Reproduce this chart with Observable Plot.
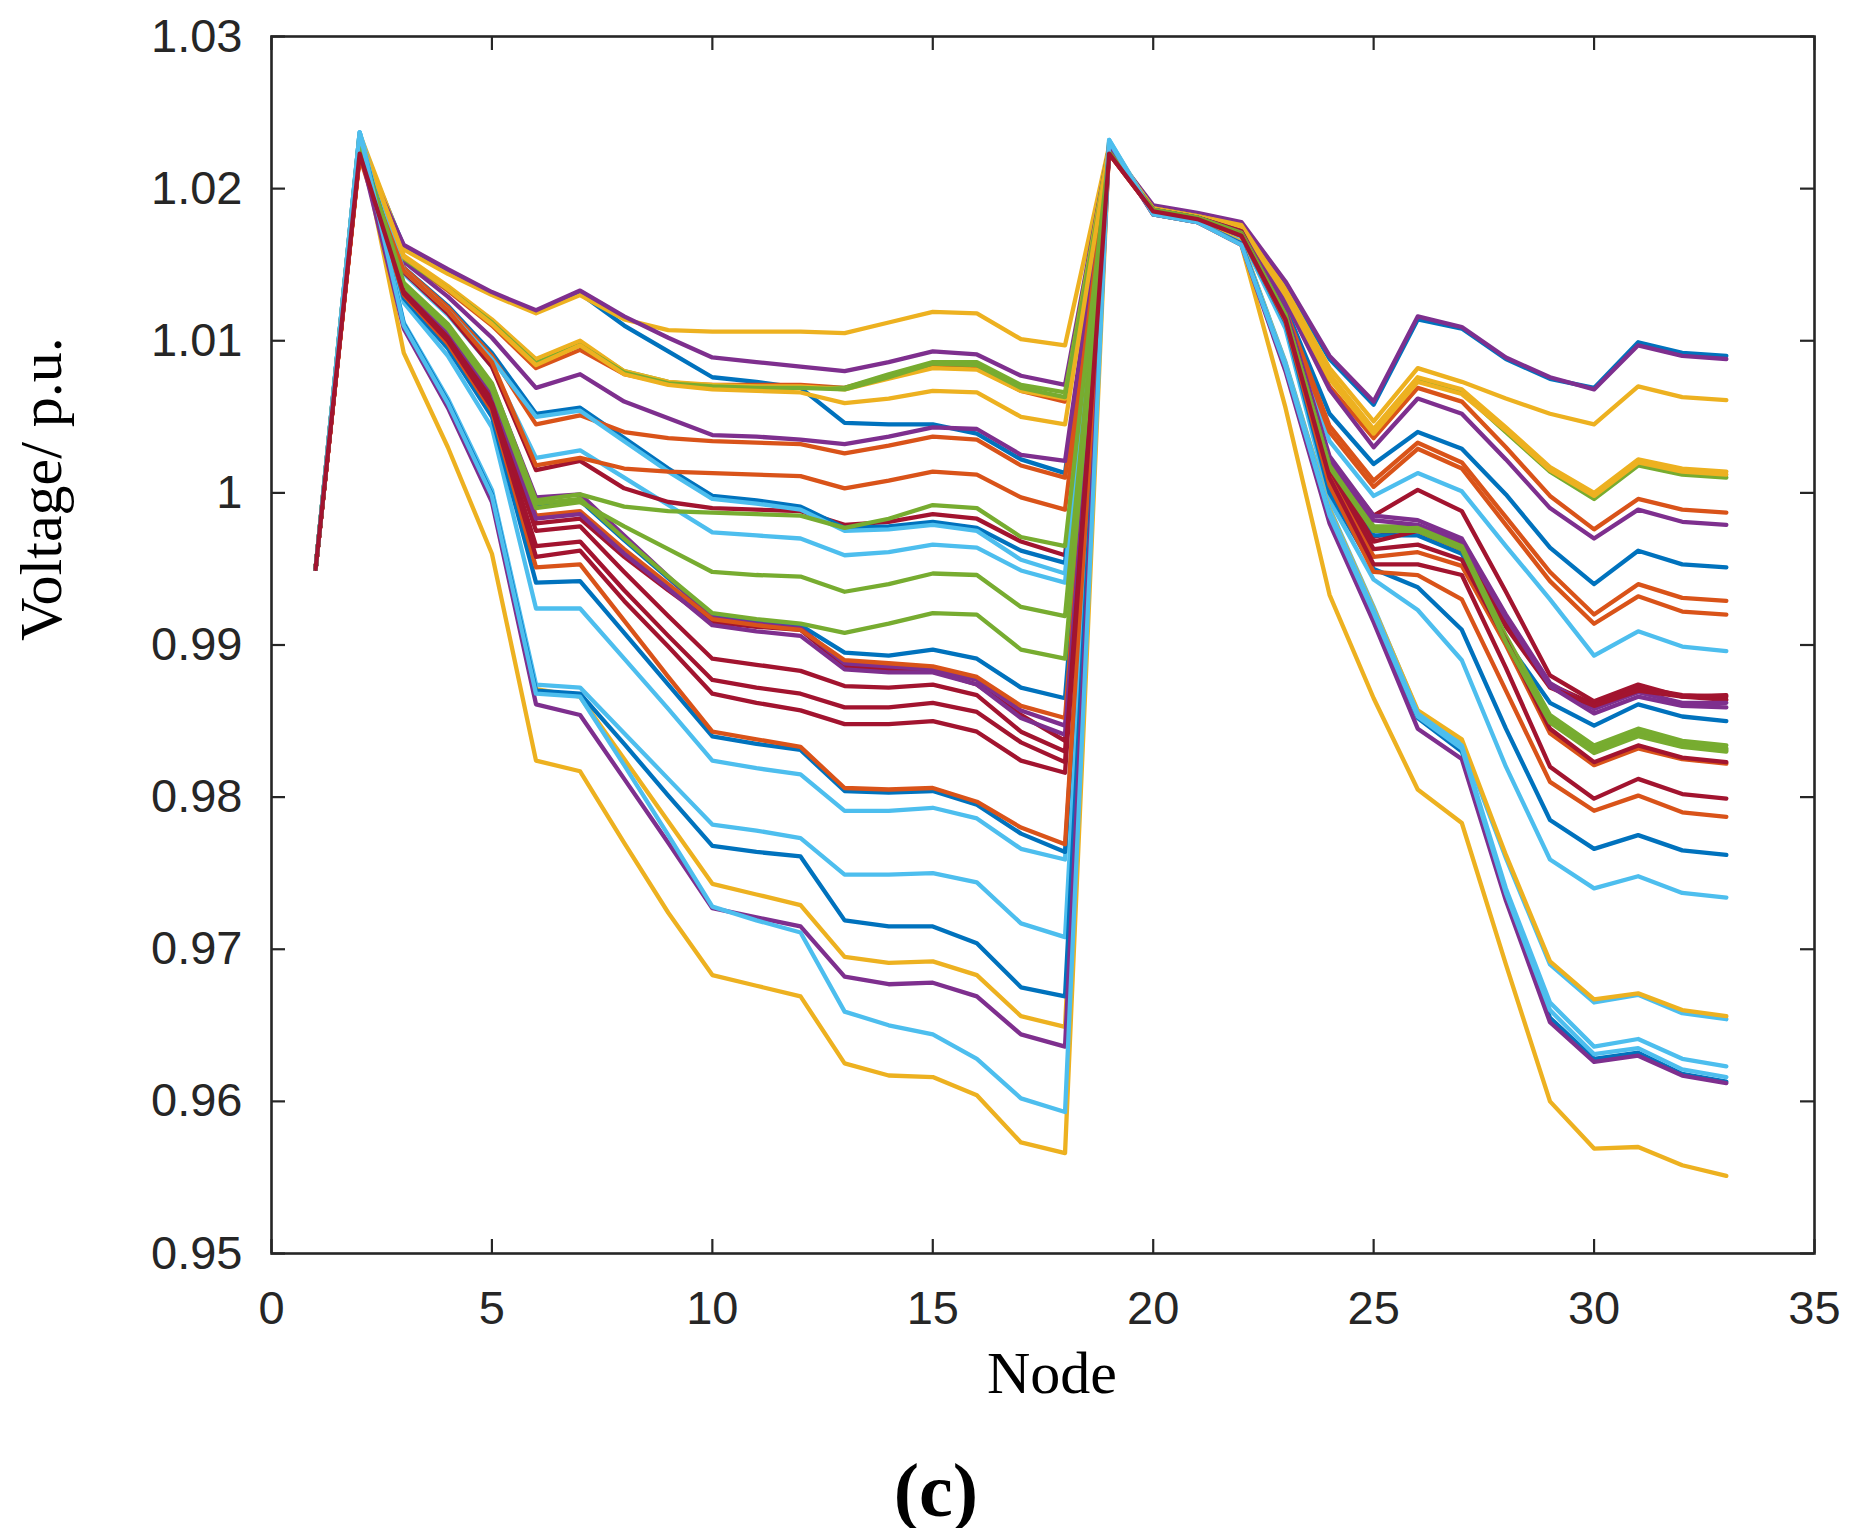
<!DOCTYPE html>
<html>
<head>
<meta charset="utf-8">
<script src="https://cdn.jsdelivr.net/npm/d3@7"></script>
<script src="https://cdn.jsdelivr.net/npm/@observablehq/plot@0.6"></script>
<style>
  html, body { margin: 0; padding: 0; background: #fff; }
  #cap { width: 1855px; box-sizing: border-box; padding-left: 17px; text-align: center;
         font-family: "Liberation Serif", "Times New Roman", serif; font-weight: bold;
         font-size: 76px; line-height: 76px; margin-top: 32px; color: #000; }
</style>
</head>
<body>
<div id="chart"></div>
<div id="cap">(c)</div>
<script>
// Node numbers (IEEE 33-bus feeder)
const nodes = [1,2,3,4,5,6,7,8,9,10,11,12,13,14,15,16,17,18,19,20,21,22,23,24,25,26,27,28,29,30,31,32,33];

// Voltage profiles (p.u.), one array per scenario
const blue1 = [0.995,1.0232,1.0162,1.0146,1.0131,1.0119,1.0131,1.0110,1.0093,1.0076,1.0073,1.0069,1.0046,1.0045,1.0045,1.0039,1.0022,1.0013,1.0226,1.0188,1.0183,1.0177,1.0137,1.0088,1.0058,1.0114,1.0108,1.0088,1.0075,1.0069,1.0099,1.0092,1.0090];
const orange1 = [0.995,1.0223,1.0154,1.0133,1.0110,1.0082,1.0094,1.0078,1.0072,1.0071,1.0071,1.0071,1.0069,1.0077,1.0083,1.0082,1.0067,1.0060,1.0225,1.0187,1.0182,1.0175,1.0128,1.0070,1.0036,1.0069,1.0060,1.0030,0.9998,0.9976,0.9996,0.9989,0.9987];
const yellow1 = [0.995,1.0236,1.0160,1.0144,1.0130,1.0118,1.0130,1.0114,1.0107,1.0106,1.0106,1.0106,1.0105,1.0112,1.0119,1.0118,1.0101,1.0097,1.0228,1.0188,1.0183,1.0176,1.0134,1.0082,1.0047,1.0082,1.0073,1.0062,1.0052,1.0045,1.0070,1.0063,1.0061];
const purple1 = [0.995,1.0226,1.0163,1.0147,1.0132,1.0120,1.0133,1.0116,1.0102,1.0089,1.0086,1.0083,1.0080,1.0086,1.0093,1.0091,1.0077,1.0071,1.0227,1.0189,1.0184,1.0178,1.0139,1.0090,1.0060,1.0116,1.0109,1.0089,1.0076,1.0068,1.0097,1.0090,1.0088];
const green1 = [0.995,1.0230,1.0155,1.0135,1.0113,1.0087,1.0099,1.0080,1.0073,1.0070,1.0070,1.0069,1.0069,1.0078,1.0086,1.0086,1.0071,1.0066,1.0227,1.0187,1.0182,1.0175,1.0131,1.0077,1.0040,1.0074,1.0066,1.0040,1.0014,0.9996,1.0018,1.0012,1.0010];
const lightblue1 = [0.995,1.0237,1.0144,1.0117,1.0083,1.0023,1.0028,1.0010,0.9992,0.9974,0.9972,0.9970,0.9959,0.9961,0.9966,0.9964,0.9949,0.9941,1.0229,1.0186,1.0181,1.0172,1.0117,1.0034,0.9998,1.0013,1.0001,0.9965,0.9930,0.9893,0.9909,0.9899,0.9896];
const darkred1 = [0.995,1.0224,1.0145,1.0118,1.0083,1.0015,1.0021,1.0003,0.9994,0.9990,0.9989,0.9988,0.9979,0.9981,0.9986,0.9983,0.9968,0.9959,1.0225,1.0187,1.0182,1.0173,1.0115,1.0022,0.9985,1.0002,0.9988,0.9935,0.9880,0.9863,0.9874,0.9866,0.9864];
const blue2 = [0.995,1.0233,1.0148,1.0123,1.0092,1.0052,1.0056,1.0036,1.0016,0.9998,0.9995,0.9991,0.9977,0.9978,0.9981,0.9977,0.9962,0.9954,1.0225,1.0187,1.0182,1.0174,1.0122,1.0052,1.0019,1.0040,1.0029,0.9999,0.9964,0.9940,0.9962,0.9953,0.9951];
const orange2 = [0.995,1.0222,1.0148,1.0122,1.0090,1.0045,1.0051,1.0040,1.0036,1.0034,1.0033,1.0032,1.0026,1.0031,1.0037,1.0035,1.0018,1.0010,1.0224,1.0186,1.0181,1.0173,1.0120,1.0044,1.0008,1.0033,1.0020,0.9984,0.9948,0.9920,0.9940,0.9931,0.9929];
const yellow2 = [0.995,1.0233,1.0156,1.0136,1.0114,1.0088,1.0100,1.0080,1.0073,1.0071,1.0070,1.0070,1.0068,1.0075,1.0082,1.0081,1.0067,1.0062,1.0227,1.0187,1.0182,1.0176,1.0132,1.0078,1.0042,1.0076,1.0068,1.0043,1.0017,1.0000,1.0022,1.0016,1.0014];
const purple2 = [0.995,1.0224,1.0152,1.0129,1.0102,1.0069,1.0078,1.0060,1.0049,1.0038,1.0037,1.0035,1.0032,1.0037,1.0043,1.0042,1.0025,1.0021,1.0225,1.0187,1.0182,1.0174,1.0126,1.0068,1.0030,1.0062,1.0052,1.0022,0.9990,0.9970,0.9989,0.9981,0.9979];
const green2 = [0.995,1.0231,1.0154,1.0134,1.0112,1.0085,1.0097,1.0079,1.0072,1.0070,1.0069,1.0069,1.0068,1.0076,1.0085,1.0084,1.0069,1.0063,1.0224,1.0186,1.0181,1.0171,1.0118,1.0020,0.9978,0.9978,0.9966,0.9905,0.9852,0.9832,0.9843,0.9835,0.9832];
const lightblue2 = [0.995,1.0236,1.0146,1.0120,1.0088,1.0050,1.0054,1.0034,1.0014,0.9996,0.9993,0.9989,0.9975,0.9976,0.9979,0.9975,0.9956,0.9947,1.0229,1.0185,1.0180,1.0168,1.0108,0.9995,0.9943,0.9923,0.9890,0.9820,0.9759,0.9740,0.9748,0.9737,0.9734];
const darkred2 = [0.995,1.0223,1.0134,1.0105,1.0064,0.9980,0.9983,0.9958,0.9936,0.9915,0.9912,0.9910,0.9886,0.9884,0.9883,0.9874,0.9854,0.9837,1.0224,1.0186,1.0181,1.0172,1.0116,1.0020,0.9971,0.9978,0.9966,0.9915,0.9874,0.9861,0.9872,0.9867,0.9866];
const blue3 = [0.995,1.0232,1.0136,1.0108,1.0069,0.9992,0.9995,0.9969,0.9944,0.9919,0.9916,0.9913,0.9895,0.9893,0.9897,0.9891,0.9872,0.9865,1.0224,1.0186,1.0181,1.0171,1.0117,1.0018,0.9972,0.9972,0.9960,0.9903,0.9862,0.9847,0.9861,0.9853,0.9850];
const orange3 = [0.995,1.0222,1.0146,1.0120,1.0086,1.0018,1.0023,1.0016,1.0014,1.0013,1.0012,1.0011,1.0003,1.0008,1.0014,1.0012,0.9997,0.9989,1.0224,1.0186,1.0181,1.0173,1.0118,1.0040,1.0004,1.0029,1.0016,0.9979,0.9942,0.9914,0.9932,0.9922,0.9920];
const yellow3 = [0.995,1.0234,1.0155,1.0134,1.0111,1.0084,1.0097,1.0078,1.0071,1.0068,1.0067,1.0066,1.0059,1.0062,1.0067,1.0066,1.0050,1.0045,1.0227,1.0187,1.0182,1.0175,1.0130,1.0075,1.0039,1.0073,1.0065,1.0041,1.0015,0.9998,1.0020,1.0014,1.0012];
const purple3 = [0.995,1.0225,1.0137,1.0110,1.0071,0.9997,0.9999,0.9972,0.9945,0.9918,0.9914,0.9911,0.9888,0.9886,0.9884,0.9877,0.9857,0.9847,1.0224,1.0186,1.0181,1.0172,1.0120,1.0024,0.9985,0.9982,0.9970,0.9920,0.9875,0.9858,0.9869,0.9862,0.9862];
const green3 = [0.995,1.0230,1.0138,1.0111,1.0072,0.9995,0.9999,0.9991,0.9988,0.9987,0.9986,0.9985,0.9977,0.9983,0.9992,0.9990,0.9971,0.9965,1.0224,1.0186,1.0181,1.0171,1.0118,1.0019,0.9977,0.9976,0.9964,0.9903,0.9850,0.9830,0.9841,0.9834,0.9831];
const lightblue3 = [0.995,1.0237,1.0125,1.0090,1.0043,0.9924,0.9924,0.9891,0.9858,0.9824,0.9819,0.9815,0.9791,0.9791,0.9793,0.9786,0.9766,0.9759,1.0232,1.0184,1.0179,1.0165,1.0086,0.9990,0.9925,0.9856,0.9836,0.9760,0.9690,0.9665,0.9670,0.9658,0.9654];
const darkred3 = [0.995,1.0223,1.0133,1.0104,1.0062,0.9975,0.9978,0.9948,0.9919,0.9891,0.9887,0.9883,0.9873,0.9872,0.9874,0.9867,0.9843,0.9830,1.0224,1.0186,1.0181,1.0172,1.0115,1.0019,0.9968,0.9975,0.9963,0.9912,0.9872,0.9860,0.9870,0.9866,0.9867];
const blue4 = [0.995,1.0234,1.0128,1.0095,1.0050,0.9941,0.9942,0.9908,0.9874,0.9840,0.9835,0.9831,0.9804,0.9803,0.9804,0.9795,0.9776,0.9764,1.0226,1.0185,1.0180,1.0169,1.0112,1.0000,0.9950,0.9938,0.9910,0.9845,0.9785,0.9766,0.9775,0.9765,0.9762];
const orange4 = [0.995,1.0222,1.0135,1.0107,1.0067,0.9985,0.9988,0.9963,0.9940,0.9917,0.9913,0.9910,0.9890,0.9888,0.9886,0.9879,0.9860,0.9852,1.0223,1.0185,1.0180,1.0170,1.0116,1.0014,0.9958,0.9961,0.9952,0.9900,0.9842,0.9821,0.9832,0.9825,0.9822];
const yellow4 = [0.995,1.0236,1.0109,1.0058,0.9997,0.9871,0.9866,0.9825,0.9784,0.9743,0.9736,0.9729,0.9695,0.9691,0.9692,0.9683,0.9656,0.9649,1.0231,1.0184,1.0179,1.0165,1.0085,0.9989,0.9924,0.9857,0.9838,0.9762,0.9692,0.9667,0.9671,0.9660,0.9656];
const purple4 = [0.995,1.0225,1.0135,1.0106,1.0066,0.9983,0.9986,0.9960,0.9937,0.9913,0.9909,0.9906,0.9884,0.9882,0.9882,0.9874,0.9852,0.9841,1.0224,1.0186,1.0181,1.0171,1.0119,1.0022,0.9982,0.9979,0.9968,0.9918,0.9873,0.9855,0.9866,0.9860,0.9859];
const green4 = [0.995,1.0229,1.0136,1.0108,1.0068,0.9990,0.9994,0.9978,0.9963,0.9948,0.9946,0.9945,0.9935,0.9940,0.9947,0.9946,0.9925,0.9919,1.0224,1.0186,1.0181,1.0171,1.0117,1.0018,0.9976,0.9977,0.9965,0.9906,0.9854,0.9834,0.9845,0.9837,0.9834];
const lightblue4 = [0.995,1.0237,1.0112,1.0062,1.0002,0.9874,0.9872,0.9842,0.9812,0.9782,0.9778,0.9773,0.9749,0.9749,0.9750,0.9744,0.9717,0.9708,1.0232,1.0183,1.0178,1.0164,1.0085,0.9988,0.9923,0.9855,0.9834,0.9740,0.9665,0.9636,0.9641,0.9628,0.9623];
const darkred4 = [0.995,1.0223,1.0132,1.0102,1.0059,0.9965,0.9968,0.9936,0.9906,0.9877,0.9872,0.9868,0.9859,0.9859,0.9862,0.9856,0.9836,0.9823,1.0223,1.0185,1.0180,1.0170,1.0116,1.0016,0.9963,0.9966,0.9956,0.9903,0.9845,0.9823,0.9834,0.9826,0.9823];
const blue5 = [0.995,1.0235,1.0111,1.0060,0.9999,0.9870,0.9868,0.9835,0.9801,0.9768,0.9764,0.9761,0.9719,0.9715,0.9715,0.9704,0.9675,0.9669,1.0230,1.0183,1.0178,1.0164,1.0082,0.9984,0.9920,0.9852,0.9830,0.9735,0.9655,0.9628,0.9632,0.9618,0.9613];
const orange5 = [0.995,1.0221,1.0130,1.0098,1.0054,0.9951,0.9953,0.9916,0.9879,0.9843,0.9838,0.9833,0.9806,0.9805,0.9806,0.9797,0.9780,0.9769,1.0223,1.0185,1.0180,1.0169,1.0113,1.0005,0.9948,0.9946,0.9930,0.9870,0.9810,0.9791,0.9801,0.9790,0.9787];
const yellow5 = [0.995,1.0235,1.0092,1.0030,0.9960,0.9824,0.9817,0.9770,0.9724,0.9683,0.9676,0.9669,0.9625,0.9617,0.9616,0.9604,0.9573,0.9566,1.0229,1.0183,1.0178,1.0163,1.0056,0.9933,0.9865,0.9805,0.9783,0.9690,0.9600,0.9569,0.9570,0.9558,0.9551];
const purple5 = [0.995,1.0226,1.0108,1.0056,0.9994,0.9861,0.9854,0.9812,0.9770,0.9727,0.9721,0.9715,0.9682,0.9677,0.9678,0.9669,0.9644,0.9636,1.0228,1.0183,1.0178,1.0163,1.0080,0.9980,0.9915,0.9845,0.9825,0.9732,0.9652,0.9626,0.9630,0.9617,0.9612];
const green5 = [0.995,1.0229,1.0137,1.0109,1.0070,0.9993,0.9996,0.9970,0.9945,0.9921,0.9917,0.9914,0.9908,0.9914,0.9921,0.9920,0.9897,0.9891,1.0224,1.0186,1.0181,1.0170,1.0117,1.0017,0.9975,0.9975,0.9963,0.9902,0.9849,0.9829,0.9840,0.9833,0.9830];
const lightblue5 = [0.995,1.0237,1.0110,1.0059,0.9998,0.9868,0.9866,0.9821,0.9775,0.9728,0.9719,0.9711,0.9659,0.9650,0.9644,0.9628,0.9602,0.9593,1.0231,1.0183,1.0178,1.0163,1.0083,0.9985,0.9921,0.9853,0.9832,0.9737,0.9660,0.9631,0.9635,0.9621,0.9616];
const darkred5 = [0.995,1.0223,1.0131,1.0100,1.0056,0.9958,0.9962,0.9929,0.9899,0.9868,0.9862,0.9857,0.9848,0.9848,0.9850,0.9843,0.9824,0.9816,1.0223,1.0185,1.0180,1.0169,1.0114,1.0010,0.9953,0.9953,0.9946,0.9885,0.9820,0.9799,0.9812,0.9802,0.9799];

// Axis ticks and labels
const xTicks = [0, 5, 10, 15, 20, 25, 30, 35];
const yTicks = [0.95, 0.96, 0.97, 0.98, 0.99, 1, 1.01, 1.02, 1.03];
const yTickLabels = ["0.95", "0.96", "0.97", "0.98", "0.99", "1", "1.01", "1.02", "1.03"];
const xLabel = "Node";
const yLabel = "Voltage/ p.u.";

// Scenario order (MATLAB plots in this order, colour cycles every 7 lines)
const scenarios = [
  blue1, orange1, yellow1, purple1, green1, lightblue1, darkred1,
  blue2, orange2, yellow2, purple2, green2, lightblue2, darkred2,
  blue3, orange3, yellow3, purple3, green3, lightblue3, darkred3,
  blue4, orange4, yellow4, purple4, green4, lightblue4, darkred4,
  blue5, orange5, yellow5, purple5, green5, lightblue5, darkred5
];

const palette = ["#0072BD", "#D95319", "#EDB120", "#7E2F8E", "#77AC30", "#4DBEEE", "#A2142F"];
const names = scenarios.map((_, i) => "Scenario " + (i + 1));
const table = scenarios.flatMap((vals, i) => vals.map((v, j) => ({series: names[i], node: nodes[j], v})));

const W = 1855, H = 1420;
const mL = 271, mR = 41, mT = 36, mB = 167;
const xDom = [0, 35], yDom = [0.95, 1.03];
const tickPx = 14;
const yTickLen = tickPx * (yDom[1] - yDom[0]) / (H - mT - mB);
const xTickLen = tickPx * (xDom[1] - xDom[0]) / (W - mL - mR);
const axisColor = "#262626";
const serif = "'Liberation Serif', 'Times New Roman', serif";

const chart = Plot.plot({
  width: W,
  height: H,
  marginLeft: mL,
  marginRight: mR,
  marginTop: mT,
  marginBottom: mB,
  x: {domain: xDom},
  y: {domain: yDom},
  color: {domain: names, range: names.map((_, i) => palette[i % palette.length])},
  style: {fontFamily: "'Liberation Sans', Arial, sans-serif", fontSize: "47px", color: axisColor, background: "#fff", overflow: "visible"},
  marks: [
    Plot.lineY(table, {x: "node", y: "v", z: "series", stroke: "series", strokeWidth: 4.3}),
    Plot.ruleX(xTicks, {x: d => d, y1: yDom[0], y2: yDom[0] + yTickLen, stroke: axisColor, strokeWidth: 2.2}),
    Plot.ruleX(xTicks, {x: d => d, y1: yDom[1] - yTickLen, y2: yDom[1], stroke: axisColor, strokeWidth: 2.2}),
    Plot.ruleY(yTicks, {y: d => d, x1: xDom[0], x2: xDom[0] + xTickLen, stroke: axisColor, strokeWidth: 2.2}),
    Plot.ruleY(yTicks, {y: d => d, x1: xDom[1] - xTickLen, x2: xDom[1], stroke: axisColor, strokeWidth: 2.2}),
    Plot.frame({stroke: axisColor, strokeWidth: 2.6}),
    Plot.axisX({ticks: xTicks, tickSize: 0, tickPadding: 37, label: null, tickFormat: d => String(d)}),
    Plot.axisY({ticks: yTicks, tickSize: 0, tickPadding: 29, label: null, tickFormat: (d, i) => yTickLabels[yTicks.indexOf(d)]}),
    Plot.text([xLabel], {frameAnchor: "bottom", text: d => d, dx: 9, dy: 120, fontFamily: serif, fontSize: 60, fill: "#000", lineAnchor: "middle"}),
    Plot.text([yLabel], {frameAnchor: "left", text: d => d, rotate: -90, dx: -230, dy: -4, fontFamily: serif, fontSize: 60, fill: "#000", lineAnchor: "middle"})
  ]
});
document.getElementById("chart").appendChild(chart);
</script>
</body>
</html>
